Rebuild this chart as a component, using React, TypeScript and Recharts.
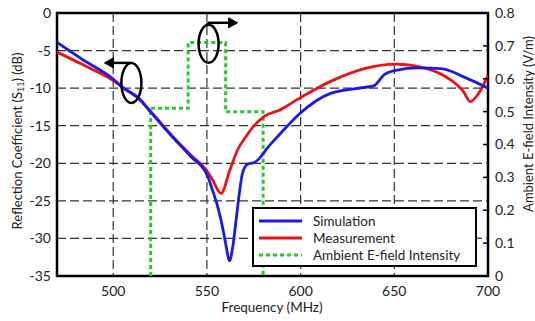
import React from 'react';
import {
  LineChart,
  Line,
  XAxis,
  YAxis,
  CartesianGrid,
  Legend,
  ReferenceArea,
  ReferenceDot,
} from 'recharts';

// frequency (MHz) / reflection coefficient (dB)
const simFreq = [470, 484, 500, 505, 514, 520, 532, 541, 550.5, 553, 555.8, 558.5, 560.3, 562, 563.8, 565.6, 567.3, 569, 571.8, 575.3, 578, 581.5, 588.6, 599, 616, 634, 639, 644.5, 651.5, 662, 675, 687, 700];
const simDb = [-3.9, -6.25, -8.8, -9.9, -11.4, -13.2, -16.6, -19.0, -21.8, -23.6, -25.8, -28.7, -31.1, -33.0, -31.1, -27.5, -24.0, -21.3, -20.1, -19.9, -19.35, -18.2, -16.2, -13.5, -10.7, -9.9, -9.7, -8.25, -7.6, -7.3, -7.4, -8.5, -10.0];

const measFreq = [470, 484, 500, 505, 514, 520, 532, 541, 550, 553, 557.6, 562, 566.4, 571, 574.5, 581, 589, 599, 616, 634, 651, 666, 680, 687, 690.5, 695, 700];
const measDb = [-5.2, -6.9, -9.0, -9.9, -11.5, -13.1, -16.5, -18.8, -21.0, -22.2, -24.0, -21.1, -18.2, -16.4, -15.2, -13.7, -12.9, -11.4, -9.1, -7.4, -6.8, -7.3, -8.9, -10.5, -11.8, -10.7, -8.3];

// ambient E-field steps (V/m)
const fieldFreq = [520, 520, 540, 540, 560, 560, 580, 580];
const fieldVal = [0, 0.51, 0.51, 0.71, 0.71, 0.5, 0.5, 0];

const xTicks = [500, 550, 600, 650, 700];
const leftTicks = [0, -5, -10, -15, -20, -25, -30, -35];
const rightTicks = [0, 0.1, 0.2, 0.3, 0.4, 0.5, 0.6, 0.7, 0.8];
const legendOrder = ['Simulation', 'Measurement', 'Ambient E-field Intensity'];

const simData = simFreq.map((f, i) => ({ f, v: simDb[i] }));
const measData = measFreq.map((f, i) => ({ f, v: measDb[i] }));
const fieldData = fieldFreq.map((f, i) => ({ f, v: fieldVal[i] }));

const FONT = 'Lato, "DejaVu Sans", sans-serif';

const RightTick = (props: any) => {
  const { x, y, payload } = props;
  return (
    <g>
      <line x1={x - 12} x2={x - 7} y1={y} y2={y} stroke="#000" strokeWidth={1.5} />
      <text x={x} y={y} dy="0.35em" textAnchor="start" fontSize={14} fill="#222" fontFamily={FONT}>
        {payload.value}
      </text>
    </g>
  );
};

const LeftArrow = (props: any) => {
  const { cx, cy } = props;
  return (
    <g fill="none" stroke="#000" strokeWidth={2.5}>
      <ellipse cx={cx} cy={cy} rx={10} ry={20} />
      <line x1={cx - 1} y1={cy - 20} x2={cx - 20} y2={cy - 20} />
      <path d={`M${cx - 27},${cy - 20} L${cx - 18},${cy - 25} L${cx - 18},${cy - 15} Z`} fill="#000" strokeWidth={1} />
    </g>
  );
};

const RightArrow = (props: any) => {
  const { cx, cy } = props;
  return (
    <g fill="none" stroke="#000" strokeWidth={2.5}>
      <ellipse cx={cx} cy={cy} rx={10} ry={19} />
      <line x1={cx - 1} y1={cy - 19} x2={cx - 1} y2={cy - 21} />
      <line x1={cx - 1} y1={cy - 21} x2={cx + 21} y2={cy - 21} />
      <path d={`M${cx + 29},${cy - 21} L${cx + 20},${cy - 26} L${cx + 20},${cy - 16} Z`} fill="#000" strokeWidth={1} />
    </g>
  );
};

const LegendBox = (props: any) => {
  const { payload } = props;
  return (
    <div
      style={{
        width: 225,
        height: 60,
        boxSizing: 'border-box',
        border: '2.5px solid #000',
        background: '#fff',
        paddingTop: 3,
        fontFamily: FONT,
        fontSize: 13.5,
        color: '#222',
      }}
    >
      {(payload || []).map((p: any) => (
        <div key={p.value} style={{ display: 'flex', alignItems: 'center', height: 17 }}>
          <svg width={54} height={10} style={{ marginLeft: 5 }}>
            <line
              x1={0}
              x2={43}
              y1={5}
              y2={5}
              stroke={p.color}
              strokeWidth={3}
              strokeDasharray={p.payload?.strokeDasharray}
            />
          </svg>
          <span>{p.value}</span>
        </div>
      ))}
    </div>
  );
};

export default function App() {
  return (
    <div style={{ position: 'absolute', left: 0, top: 0, background: '#fff' }}>
      <LineChart width={535} height={321} margin={{ top: 13, right: 0, bottom: 0, left: 0 }}>
        <CartesianGrid
          yAxisId="left"
          stroke="#333"
          strokeWidth={1.2}
          strokeDasharray="9 4"
        />
        <XAxis
          dataKey="f"
          type="number"
          domain={[470, 700]}
          ticks={xTicks}
          allowDataOverflow
          height={45}
          tickSize={0}
          tickMargin={10}
          axisLine={false}
          tick={{ fontSize: 14, fill: '#222', fontFamily: FONT }}
          label={{
            content: (p: any) => (
              <text x={272} y={p.viewBox.y + 36} textAnchor="middle" fontSize={13.5} fill="#222" fontFamily={FONT}>
                Frequency (MHz)
              </text>
            ),
          }}
        />
        <YAxis
          yAxisId="left"
          type="number"
          domain={[-35, 0]}
          ticks={leftTicks}
          width={57}
          tickSize={0}
          tickMargin={6}
          axisLine={false}
          allowDataOverflow
          tick={{ fontSize: 14, fill: '#222', fontFamily: FONT }}
          label={{
            content: () => (
              <text
                x={17}
                y={141}
                transform="rotate(-90 17 141)"
                textAnchor="middle"
                dominantBaseline="central"
                fontSize={13}
                fill="#222"
                fontFamily={FONT}
              >
                Reflection Coefficient (S
                <tspan fontSize={9} dy={3}>11</tspan>
                <tspan dy={-3}>) (dB)</tspan>
              </text>
            ),
          }}
        />
        <YAxis
          yAxisId="right"
          orientation="right"
          type="number"
          domain={[0, 0.8]}
          ticks={rightTicks}
          width={47}
          tickSize={0}
          tickMargin={7}
          axisLine={false}
          tick={<RightTick />}
          label={{
            content: () => (
              <text
                x={528}
                y={124}
                transform="rotate(-90 528 124)"
                textAnchor="middle"
                dominantBaseline="central"
                fontSize={13}
                fill="#222"
                fontFamily={FONT}
              >
                Ambient E-field Intensity (V/m)
              </text>
            ),
          }}
        />
        <Line
          yAxisId="right"
          data={fieldData}
          dataKey="v"
          name="Ambient E-field Intensity"
          type="linear"
          stroke="#22cc22"
          strokeWidth={3}
          strokeDasharray="4 3"
          dot={false}
          isAnimationActive={false}
        />
        <Line
          yAxisId="left"
          data={measData}
          dataKey="v"
          name="Measurement"
          type="monotone"
          stroke="#ee1111"
          strokeWidth={2.8}
          dot={false}
          isAnimationActive={false}
        />
        <Line
          yAxisId="left"
          data={simData}
          dataKey="v"
          name="Simulation"
          type="monotone"
          stroke="#1a1ae6"
          strokeWidth={2.8}
          dot={false}
          isAnimationActive={false}
        />
        <ReferenceArea
          yAxisId="left"
          x1={470}
          x2={700}
          y1={-35}
          y2={0}
          fill="none"
          stroke="#000"
          strokeWidth={2.5}
          ifOverflow="visible"
        />
        <ReferenceDot yAxisId="left" x={509.7} y={-9.3} ifOverflow="visible" shape={<LeftArrow />} />
        <ReferenceDot yAxisId="left" x={550.9} y={-4.1} ifOverflow="visible" shape={<RightArrow />} />
        <Legend
          layout="vertical"
          align="center"
          verticalAlign="middle"
          content={(p: any) => (
            <LegendBox
              payload={[...(p.payload || [])].sort(
                (a: any, b: any) => legendOrder.indexOf(a.value) - legendOrder.indexOf(b.value)
              )}
            />
          )}
          wrapperStyle={{ position: 'absolute', left: 252, top: 207, width: 225, height: 60, bottom: 'auto', right: 'auto' }}
        />
      </LineChart>
    </div>
  );
}
